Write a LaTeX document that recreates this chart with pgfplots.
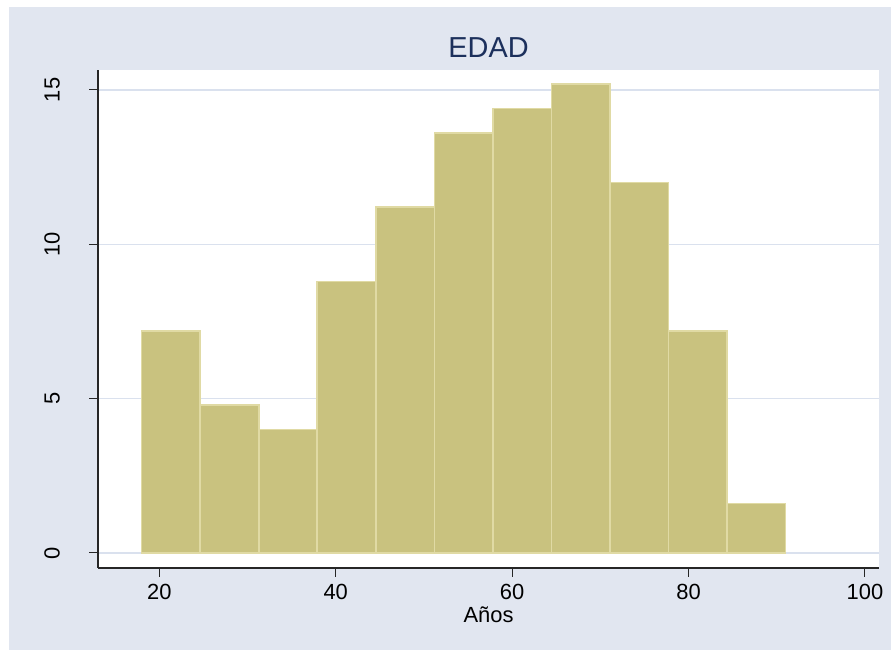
\documentclass[border=0pt]{standalone}
\usepackage{fontspec}
\setmainfont{Liberation Sans}
\usepackage{pgfplots}
\pgfplotsset{compat=1.18}
\definecolor{bgblue}{RGB}{225,230,240}
\definecolor{gridblue}{RGB}{218,225,238}
\definecolor{khakifill}{RGB}{201,194,127}
\definecolor{khakiline}{RGB}{224,218,164}
\definecolor{titleblue}{RGB}{28,48,92}
\begin{document}
\begin{tikzpicture}[x=1bp,y=1bp]
\fill[white] (0,0) rectangle (891,650);
\fill[bgblue] (9,0) rectangle (891,643);
\begin{axis}[
  at={(98bp,82bp)}, anchor=south west,
  scale only axis, width=781bp, height=498bp,
  xmin=13.05, xmax=101.59, ymin=-0.486, ymax=15.648,
  axis lines*=left,
  axis line style={black!85, line width=1.1bp},
  axis background/.style={fill=white},
  xtick={20,40,60,80,100},
  ytick={0,5,10,15},
  tick align=outside,
  major tick length=9bp,
  tick style={black!85, line width=1bp},
  ymajorgrids,
  grid style={gridblue, line width=1.3bp},
  /pgf/number format/assume math mode=true,
  tick label style={font=\fontsize{22}{26}\selectfont},
  xticklabel style={inner sep=0pt, yshift=-7bp},
  yticklabel style={rotate=90, anchor=south, inner sep=0pt, yshift=29bp},
  title={EDAD},
  title style={at={(0.5,1)}, anchor=base, yshift=7bp,
    font=\fontsize{29}{34}\selectfont, text=titleblue},
  xlabel={Años},
  xlabel style={at={(0.5,0)}, anchor=base, yshift=-55bp,
    font=\fontsize{22}{26}\selectfont},
]
\addplot[ybar interval, fill=khakifill, draw=khakiline, line width=1.6bp] coordinates {
  (18,7.2) (24.636,4.8) (31.273,4.0) (37.909,8.8) (44.545,11.2)
  (51.182,13.6) (57.818,14.4) (64.455,15.2) (71.091,12.0)
  (77.727,7.2) (84.364,1.6) (91,1.6)
};
\end{axis}
\end{tikzpicture}
\end{document}
